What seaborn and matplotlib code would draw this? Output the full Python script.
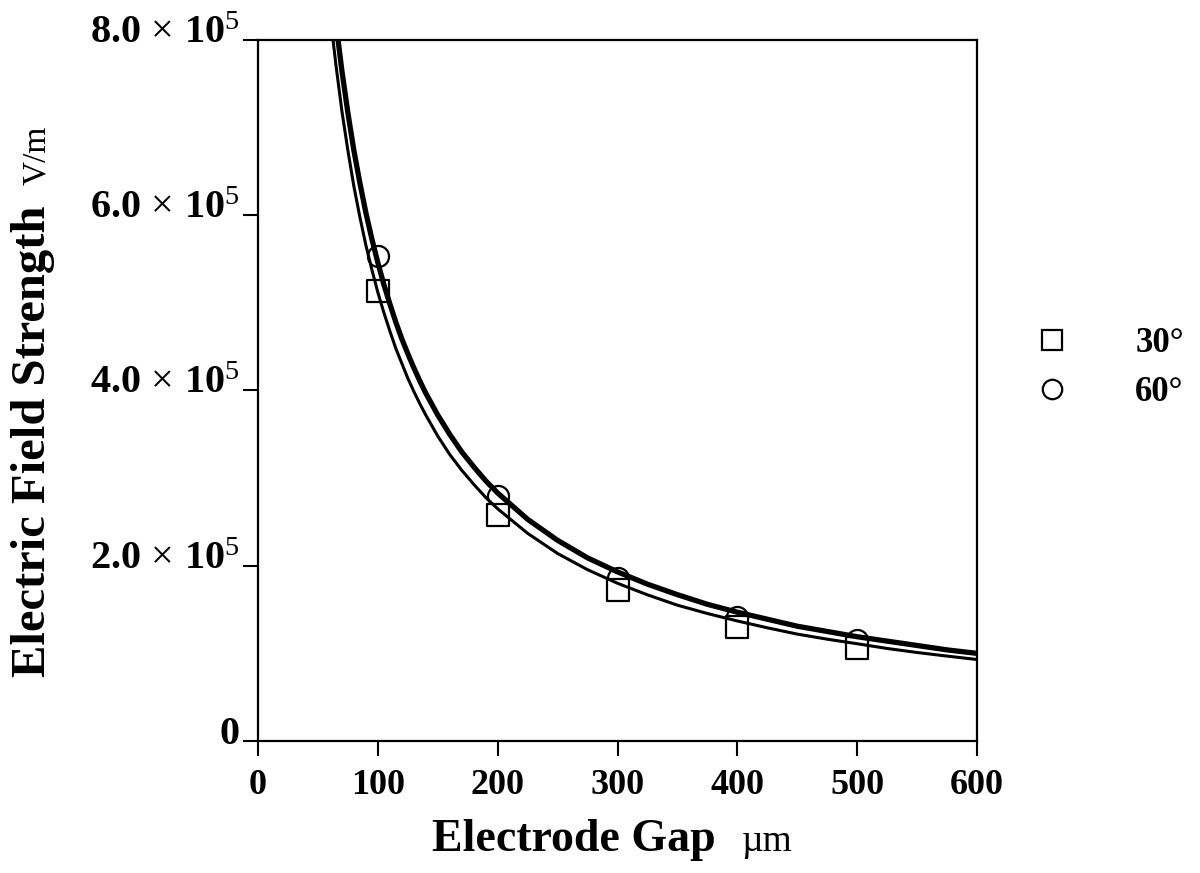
import matplotlib
matplotlib.use("Agg")
import matplotlib.pyplot as plt
import matplotlib.transforms as mtransforms
import pandas as pd
import seaborn as sns

# measured points (electrode gap in um, field strength in V/m)
gap_um = [100, 200, 300, 400, 500]
field_30 = [5.13e5, 2.58e5, 1.72e5, 1.30e5, 1.056e5]
field_60 = [5.53e5, 2.80e5, 1.86e5, 1.415e5, 1.15e5]

# fitted curves
fit_gap_30 = [62.6, 65, 70, 75, 80, 85, 90, 95, 100, 105, 110, 115, 120, 125,
              130, 135, 140, 150, 160, 170, 180, 190, 200, 225, 250, 275, 300,
              325, 350, 375, 400, 425, 450, 475, 500, 525, 550, 575, 600]
fit_field_30 = [8.0e5, 7.72e5, 7.19e5, 6.74e5, 6.33e5, 5.98e5, 5.66e5, 5.38e5,
                5.12e5, 4.89e5, 4.68e5, 4.48e5, 4.31e5, 4.14e5, 3.99e5, 3.85e5,
                3.72e5, 3.48e5, 3.27e5, 3.09e5, 2.93e5, 2.78e5, 2.65e5, 2.37e5,
                2.14e5, 1.955e5, 1.80e5, 1.668e5, 1.55e5, 1.455e5, 1.37e5,
                1.292e5, 1.22e5, 1.162e5, 1.11e5, 1.056e5, 1.01e5, 0.969e5, 0.93e5]
fit_gap_60 = [66.8, 70, 75, 80, 85, 90, 95, 100, 105, 110, 115, 120, 125, 130,
              135, 140, 150, 160, 170, 180, 190, 200, 225, 250, 275, 300, 325,
              350, 375, 400, 425, 450, 475, 500, 525, 550, 575, 600]
fit_field_60 = [8.0e5, 7.65e5, 7.17e5, 6.74e5, 6.37e5, 6.03e5, 5.73e5, 5.46e5,
                5.21e5, 4.99e5, 4.78e5, 4.59e5, 4.42e5, 4.26e5, 4.11e5, 3.97e5,
                3.72e5, 3.50e5, 3.30e5, 3.13e5, 2.97e5, 2.83e5, 2.53e5, 2.29e5,
                2.09e5, 1.93e5, 1.79e5, 1.67e5, 1.56e5, 1.47e5, 1.39e5, 1.31e5,
                1.25e5, 1.19e5, 1.14e5, 1.09e5, 1.04e5, 1.00e5]

x_ticks = [0, 100, 200, 300, 400, 500, 600]
y_ticks = [0, 2e5, 4e5, 6e5, 8e5]
y_tick_labels = ["0",
                 r"$\mathbf{2.0}\,\times\,\mathbf{10}^{5}$",
                 r"$\mathbf{4.0}\,\times\,\mathbf{10}^{5}$",
                 r"$\mathbf{6.0}\,\times\,\mathbf{10}^{5}$",
                 r"$\mathbf{8.0}\,\times\,\mathbf{10}^{5}$"]
series_labels = ["30°", "60°"]

sns.set_theme(style="ticks")
plt.rcParams["font.family"] = ["Liberation Serif", "DejaVu Serif"]
plt.rcParams["mathtext.fontset"] = "custom"
plt.rcParams["mathtext.rm"] = "Liberation Serif"
plt.rcParams["mathtext.bf"] = "Liberation Serif:bold"
plt.rcParams["mathtext.it"] = "Liberation Serif:italic"
for key in ["text.color", "axes.labelcolor", "xtick.color", "ytick.color", "axes.edgecolor"]:
    plt.rcParams[key] = "black"

fit_df = pd.concat([
    pd.DataFrame({"gap": fit_gap_30, "field": fit_field_30, "angle": series_labels[0]}),
    pd.DataFrame({"gap": fit_gap_60, "field": fit_field_60, "angle": series_labels[1]}),
])
pts_df = pd.DataFrame({"gap": gap_um * 2, "field": field_30 + field_60,
                       "angle": [series_labels[0]] * 5 + [series_labels[1]] * 5})

fig = plt.figure(figsize=(12, 8.73), dpi=100)
ax = fig.add_axes([258 / 1200, 1 - 741 / 873, (977 - 258) / 1200, (741 - 40) / 873])

# markers: circles under squares, both white-filled
sns.scatterplot(data=pts_df[pts_df.angle == "60°"], x="gap", y="field", marker="o",
                s=230, facecolor="white", edgecolor="black", linewidth=1.6,
                ax=ax, zorder=3, legend=False)
sns.scatterplot(data=pts_df[pts_df.angle == "30°"], x="gap", y="field", marker="s",
                s=270, facecolor="white", edgecolor="black", linewidth=1.6,
                ax=ax, zorder=4, legend=False)

# fitted curves: thin for 30 deg, thick for 60 deg
sns.lineplot(data=fit_df[fit_df.angle == "30°"], x="gap", y="field", color="black",
             linewidth=2.2, ax=ax, zorder=5, legend=False)
sns.lineplot(data=fit_df[fit_df.angle == "60°"], x="gap", y="field", color="black",
             linewidth=3.8, ax=ax, zorder=5, legend=False)
for ln in ax.get_lines():
    ln.set_solid_joinstyle("round")

ax.set_xlim(0, 600)
ax.set_ylim(0, 8e5)
ax.set_xticks(x_ticks)
ax.set_xticklabels([str(t) for t in x_ticks], fontsize=26, fontweight="bold")
ax.set_yticks(y_ticks)
ax.set_yticklabels(y_tick_labels, fontsize=29, fontweight="bold")
ax.tick_params(axis="x", direction="out", length=11, width=1.5, pad=9)
ax.tick_params(axis="y", direction="out", length=11, width=1.5, pad=2)
ax.set_xlabel("")
ax.set_ylabel("")
for sp in ax.spines.values():
    sp.set_linewidth(1.6)
    sp.set_color("black")

# y tick labels sit a bit above their ticks in the original
offset = mtransforms.ScaledTranslation(0, 8 / 72, fig.dpi_scale_trans)
for lab in ax.get_yticklabels():
    lab.set_transform(lab.get_transform() + offset)

# axis titles: bold name plus plain unit
fig.text(432 / 1200, 1 - 851 / 873, "Electrode Gap", fontsize=33, fontweight="bold",
         ha="left", va="baseline")
fig.text(742 / 1200, 1 - 851 / 873, "µm", fontsize=27, ha="left", va="baseline")
fig.text(33 / 1200, 1 - 441 / 873, "Electric Field Strength", fontsize=35,
         fontweight="bold", rotation=90, ha="center", va="center")
fig.text(37 / 1200, 1 - 155 / 873, "V/m", fontsize=24, rotation=90,
         ha="center", va="center")

# legend outside on the right
handles = [
    plt.Line2D([], [], linestyle="none", marker="s", markersize=15,
               markerfacecolor="white", markeredgecolor="black", markeredgewidth=1.6),
    plt.Line2D([], [], linestyle="none", marker="o", markersize=14,
               markerfacecolor="white", markeredgecolor="black", markeredgewidth=1.6),
]
leg = fig.legend(handles, series_labels, loc="center left",
                 bbox_to_anchor=(1038 / 1200, 1 - 368 / 873), frameon=False,
                 prop={"family": "Liberation Serif", "weight": "bold", "size": 25},
                 handlelength=0.8, handletextpad=2.0, labelspacing=0.45,
                 borderpad=0, borderaxespad=0)

fig.savefig("out.png", dpi=100)
